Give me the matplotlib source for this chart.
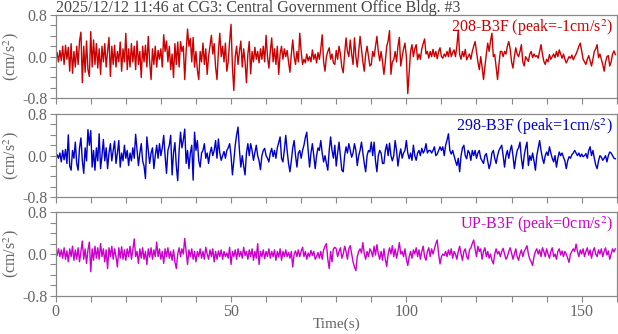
import numpy as np
import matplotlib
matplotlib.use("Agg")
import matplotlib.pyplot as plt
from matplotlib.ticker import MultipleLocator, FixedLocator

title = "2025/12/12 11:46 at CG3: Central Government Office Bldg. #3"
dt = 0.4  # seconds between the values

# 208-B3F, 0..159.6 s
red = [
    -0.05, 0.08, -0.1, 0.12, -0.08, 0.2, -0.15, 0.22, -0.05, 0.18, -0.28, 0.25, -0.32, 0.1, -0.2, 0.2, -0.15, 0.3, 0.47, -0.5, 0.2, -0.3, 0.3, -0.25, -0.38,
    0.48, -0.2, 0.32, -0.15, 0.25, -0.22, 0.15, -0.34, 0.2, -0.1, 0.25, -0.2, 0.1, 0.37, -0.38, 0.2, -0.15, 0.22, -0.2, 0.1, -0.1, 0.28, -0.28, 0.15, -0.1,
    0.45, -0.25, 0.15, -0.2, 0.25, -0.1, 0.2, -0.25, 0.3, -0.15, 0.1, -0.4, 0.2, -0.1, 0.22, -0.2, 0.39, -0.1, -0.44, 0.15, -0.15, 0.2, -0.2, 0.12, -0.05,
    0.15, -0.2, 0.42, 0.1, 0.3, -0.1, 0.2, -0.25, 0.05, -0.4, 0.25, -0.15, 0.28, -0.2, 0.29, 0.1, 0.2, -0.44, 0.1, 0.53, 0.2, 0.35, -0.1, 0.37, -0.2,
    0.1, -0.25, -0.44, 0.1, -0.1, 0.26, -0.15, 0.15, -0.34, 0.0, 0.2, 0.41, 0.05, 0.25, -0.2, -0.44, 0.1, 0.45, 0.0, 0.2, -0.1, 0.26, -0.28, -0.1, 0.3,
    0.62, -0.2, -0.65, 0.0, 0.2, -0.15, 0.1, 0.3, -0.2, 0.15, -0.1, -0.5, 0.05, 0.29, -0.33, 0.1, -0.1, 0.18, -0.05, 0.1, -0.12, 0.15, -0.05, 0.2, -0.1,
    0.41, 0.0, -0.22, 0.1, 0.36, -0.1, 0.15, -0.15, 0.2, -0.34, 0.05, 0.2, -0.05, 0.15, 0.0, 0.12, -0.1, -0.3, 0.05, 0.32, 0.0, -0.15, 0.1, -0.1, 0.45,
    0.1, -0.15, -0.05, -0.12, 0.05, -0.08, 0.0, -0.1, 0.13, -0.05, 0.05, -0.12, 0.08, -0.05, 0.15, 0.42, -0.1, -0.28, 0.0, 0.1, 0.17, -0.05, 0.05, -0.12, -0.15,
    0.12, -0.05, 0.2, 0.05, -0.2, -0.31, 0.05, 0.36, 0.1, 0.0, 0.32, 0.05, -0.15, 0.36, 0.0, -0.2, 0.1, 0.39, 0.15, -0.1, -0.28, 0.05, 0.2, 0.0, -0.18,
    -0.15, 0.1, 0.0, 0.2, 0.39, 0.1, -0.08, 0.1, -0.1, -0.34, -0.1, 0.2, 0.3, 0.5, -0.34, -0.1, -0.06, 0.1, -0.1, 0.2, 0.37, -0.18, 0.0, 0.15, 0.26,
    0.0, -0.71, -0.3, 0.1, 0.23, 0.0, 0.15, 0.23, -0.06, 0.05, -0.05, 0.15, 0.25, 0.34, 0.05, 0.1, -0.03, 0.1, 0.0, 0.14, 0.0, 0.1, -0.04, 0.1, 0.17,
    0.0, -0.03, 0.05, 0.0, 0.1, 0.0, 0.17, 0.0, 0.08, 0.13, 0.0, 0.2, 0.51, 0.04, -0.05, 0.1, 0.0, 0.14, -0.06, 0.0, 0.05, -0.05, 0.1, 0.2, 0.29,
    0.1, -0.1, -0.25, 0.0, -0.2, -0.44, -0.2, 0.05, 0.26, 0.1, 0.3, 0.45, 0.0, 0.04, -0.2, -0.44, -0.15, 0.1, 0.1, 0.0, 0.1, 0.05, 0.2, 0.29, 0.15,
    -0.1, -0.22, 0.0, 0.17, 0.05, 0.0, 0.1, 0.23, -0.1, -0.18, 0.0, -0.05, -0.09, 0.05, 0.1, -0.02, 0.05, 0.0, 0.02, -0.03, 0.1, 0.23, 0.05, -0.09, -0.15,
    -0.05, -0.1, 0.04, -0.05, 0.0, 0.05, -0.02, 0.1, 0.0, 0.13, 0.05, -0.03, 0.05, -0.05, -0.12, -0.06, 0.0, -0.03, 0.03, -0.06, 0.0, 0.05, 0.12, 0.2, 0.26,
    0.1, -0.05, -0.1, -0.15, -0.05, 0.02, -0.08, -0.18, -0.05, 0.1, 0.15, 0.23, -0.02, 0.05, -0.05, -0.15, -0.28, -0.1, 0.0, 0.02, -0.18, -0.1, 0.05, 0.11, 0.04,
]

# 298-B3F
blue = [
    -0.1, 0.02, -0.05, 0.05, -0.12, 0.1, -0.08, 0.12, -0.15, 0.4, -0.2, -0.28, 0.1, -0.05, 0.26, -0.15, -0.28, 0.15, 0.34, -0.1, -0.34, 0.15, -0.1, 0.5, 0.2,
    0.48, -0.22, 0.1, -0.28, 0.15, -0.1, 0.42, -0.25, 0.0, 0.31, -0.1, 0.15, -0.25, 0.05, 0.23, -0.1, 0.1, 0.28, -0.15, 0.05, 0.29, -0.22, 0.05, -0.1, 0.2,
    -0.05, 0.1, -0.19, 0.05, -0.1, 0.15, -0.05, 0.41, 0.1, -0.19, 0.05, 0.23, -0.1, -0.2, -0.44, 0.36, 0.1, -0.15, 0.05, 0.15, -0.25, 0.0, 0.2, -0.05, 0.23,
    0.0, 0.15, 0.39, 0.0, -0.34, 0.1, 0.2, 0.39, -0.37, 0.05, 0.25, -0.2, -0.48, 0.1, 0.45, 0.15, 0.3, 0.51, -0.15, 0.1, -0.25, 0.05, 0.2, -0.47, 0.45,
    0.1, 0.29, -0.1, -0.22, 0.05, 0.1, 0.23, -0.05, 0.05, -0.15, 0.05, 0.16, 0.0, 0.1, 0.29, -0.05, 0.32, 0.05, -0.09, 0.0, 0.08, -0.05, 0.1, 0.15, 0.23,
    0.0, -0.37, -0.1, 0.2, 0.4, 0.55, 0.1, -0.22, 0.0, -0.2, -0.37, 0.05, 0.23, 0.0, 0.23, 0.1, -0.09, 0.05, 0.2, 0.0, -0.1, -0.27, 0.0, 0.1, 0.14,
    0.0, -0.05, -0.12, 0.05, 0.14, -0.02, 0.1, -0.05, 0.15, 0.25, 0.36, -0.05, -0.12, 0.1, 0.39, 0.1, -0.15, -0.31, -0.1, 0.15, 0.29, 0.0, -0.22, 0.05, 0.1,
    -0.05, 0.1, 0.2, 0.35, 0.45, 0.1, -0.22, 0.05, 0.23, 0.0, -0.25, 0.0, 0.15, 0.1, 0.29, 0.05, -0.12, 0.0, -0.15, -0.28, 0.1, 0.36, 0.1, -0.05, 0.2,
    -0.2, 0.05, 0.26, 0.0, -0.28, -0.31, 0.0, 0.17, 0.05, 0.23, 0.1, -0.03, 0.05, 0.23, 0.1, -0.19, 0.0, 0.1, 0.26, 0.05, -0.15, -0.31, 0.0, 0.1, 0.07,
    0.26, 0.0, 0.26, -0.1, -0.31, 0.0, 0.1, 0.05, -0.15, -0.15, 0.1, 0.22, 0.0, 0.24, 0.0, -0.1, 0.0, 0.29, 0.1, -0.2, 0.0, 0.13, -0.05, 0.05, 0.1,
    0.29, 0.05, -0.06, 0.05, -0.09, 0.2, 0.0, -0.09, 0.05, 0.1, 0.0, 0.14, 0.05, 0.1, 0.23, 0.05, 0.1, 0.1, 0.05, 0.1, 0.17, 0.0, 0.03, 0.1, 0.17,
    0.1, 0.17, 0.0, 0.2, 0.3, 0.42, 0.1, 0.03, 0.1, 0.0, -0.1, -0.19, -0.05, -0.31, 0.0, 0.15, 0.2, 0.0, -0.06, 0.1, 0.05, -0.09, 0.1, 0.0, 0.1,
    -0.05, 0.05, 0.1, -0.05, -0.1, -0.15, 0.0, 0.04, -0.1, -0.25, -0.15, 0.05, 0.1, -0.05, -0.15, 0.0, 0.1, 0.15, 0.2, 0.0, -0.22, 0.0, 0.1, -0.05, 0.1,
    0.2, 0.0, -0.25, -0.05, 0.1, 0.15, 0.26, -0.05, -0.25, 0.0, 0.15, 0.26, -0.19, 0.0, -0.09, 0.05, -0.1, -0.28, 0.0, 0.15, 0.29, 0.1, -0.05, -0.15, 0.0,
    0.07, 0.0, 0.17, 0.05, -0.05, -0.12, 0.0, -0.22, -0.05, 0.07, 0.0, 0.05, -0.03, -0.1, -0.25, -0.1, -0.02, -0.05, 0.02, 0.05, 0.1, 0.05, 0.0, 0.05, -0.02,
    0.03, -0.02, 0.0, 0.04, -0.05, 0.1, 0.17, 0.0, 0.1, -0.05, -0.18, -0.25, -0.1, 0.0, -0.03, -0.09, -0.05, 0.0, -0.12, 0.0, 0.07, 0.05, 0.0, -0.05, -0.06,
]

# UP-B3F
magenta = [
    0.05, -0.03, 0.1, -0.05, 0.08, -0.08, 0.12, -0.1, 0.06, -0.15, 0.1, -0.05, 0.15, -0.12, 0.08, -0.1, 0.12, -0.15, 0.05, 0.25, -0.1, 0.1, -0.18, 0.08, 0.23,
    -0.34, 0.1, -0.12, 0.15, -0.08, 0.12, -0.1, 0.2, -0.05, 0.1, -0.15, 0.08, -0.28, 0.12, -0.05, 0.15, -0.1, 0.1, -0.05, -0.25, 0.12, -0.08, 0.14, -0.1, 0.08,
    -0.12, 0.1, -0.05, 0.15, -0.1, 0.08, 0.29, -0.05, 0.05, -0.18, 0.1, -0.08, 0.12, -0.1, 0.05, -0.2, 0.1, -0.06, 0.12, -0.1, 0.08, -0.05, 0.23, -0.05, 0.1,
    -0.1, 0.05, -0.18, 0.1, -0.05, 0.12, -0.08, 0.05, -0.12, 0.08, -0.15, -0.28, 0.0, 0.12, -0.05, 0.1, 0.0, 0.3, 0.05, -0.2, 0.08, -0.05, 0.1, -0.1, 0.05,
    -0.15, 0.05, -0.05, 0.1, -0.08, 0.05, -0.1, 0.13, 0.0, -0.1, 0.08, -0.05, 0.1, -0.15, 0.05, -0.1, 0.06, -0.05, 0.08, -0.1, 0.05, -0.05, 0.02, -0.08, 0.13,
    -0.2, 0.05, -0.05, 0.08, -0.1, 0.1, -0.05, 0.05, -0.08, 0.13, -0.03, 0.05, -0.1, 0.08, -0.05, 0.1, -0.12, 0.05, -0.08, 0.2, -0.2, 0.05, -0.05, 0.08, -0.09,
    0.05, -0.05, 0.1, -0.08, 0.05, -0.05, 0.08, -0.12, 0.05, -0.06, 0.1, -0.12, 0.05, -0.05, 0.08, -0.05, 0.03, -0.08, 0.05, -0.25, 0.0, 0.06, -0.05, 0.08, -0.05,
    0.05, 0.13, -0.05, 0.05, -0.1, 0.02, -0.05, 0.07, -0.03, 0.05, -0.1, -0.05, 0.03, -0.08, 0.05, -0.1, 0.08, 0.15, 0.2, -0.1, -0.28, 0.05, -0.15, 0.1, 0.13,
    0.1, -0.05, 0.05, 0.12, -0.08, 0.0, 0.15, 0.05, -0.1, 0.1, 0.16, 0.0, -0.15, -0.25, -0.32, -0.05, 0.05, 0.1, 0.02, 0.22, 0.0, -0.1, 0.05, -0.05, 0.1,
    0.05, -0.05, 0.15, -0.02, 0.18, 0.0, -0.1, 0.05, -0.12, 0.1, -0.1, -0.24, 0.0, 0.12, 0.0, 0.16, -0.05, 0.1, -0.08, 0.05, 0.22, 0.0, 0.05, -0.05, 0.1,
    -0.1, -0.22, -0.05, 0.05, -0.08, 0.08, 0.0, 0.12, -0.05, 0.08, -0.1, 0.05, 0.15, -0.05, -0.12, 0.05, 0.12, -0.05, 0.1, 0.0, 0.1, 0.2, 0.27, 0.0, -0.19,
    -0.05, 0.0, -0.03, 0.05, -0.05, 0.08, -0.02, 0.1, -0.08, 0.05, 0.0, -0.1, 0.05, 0.15, 0.0, -0.12, 0.05, 0.1, -0.05, -0.1, 0.08, 0.12, 0.2, 0.27, 0.1,
    -0.05, 0.15, 0.05, 0.1, -0.1, 0.05, 0.12, -0.05, 0.05, -0.08, 0.0, -0.12, -0.19, 0.0, 0.1, 0.0, 0.05, -0.05, 0.05, 0.11, 0.0, -0.1, -0.05, 0.05, 0.12,
    0.02, -0.1, 0.0, 0.1, -0.05, -0.12, 0.0, 0.08, -0.05, 0.05, 0.1, 0.16, 0.0, -0.1, -0.15, -0.22, -0.05, 0.05, 0.1, 0.0, 0.08, -0.05, 0.12, 0.05, -0.05,
    0.1, 0.0, -0.08, 0.05, 0.12, -0.05, 0.0, -0.1, 0.05, 0.1, -0.02, 0.06, -0.05, 0.05, 0.0, -0.08, -0.16, 0.0, 0.05, 0.1, 0.05, 0.19, 0.05, -0.05, 0.08,
    0.0, 0.1, -0.05, 0.05, 0.12, -0.02, 0.08, -0.08, 0.05, 0.12, 0.0, -0.05, 0.08, 0.0, 0.1, -0.05, 0.05, 0.12, -0.02, 0.06, -0.1, 0.0, 0.1, 0.04, 0.1,
]

labels = ["208-B3F (peak=-1cm/s$^2$)", "298-B3F (peak=1cm/s$^2$)", "UP-B3F (peak=0cm/s$^2$)"]
colors = ["#cc0000", "#0000cc", "#cc00cc"]
traces = [red, blue, magenta]

plt.rcParams['font.family'] = ['Liberation Serif', 'DejaVu Serif']
plt.rcParams['mathtext.fontset'] = 'stix'
gray = "#666666"
fs = 11.5

fig = plt.figure(figsize=(6.18, 3.34), dpi=100)
bottoms = [0.7057, 0.4093, 0.1147]
axes = []
for i, (vals, lab, col) in enumerate(zip(traces, labels, colors)):
    ax = fig.add_axes([0.0901, bottoms[i], 0.9079, 0.2494])
    t = np.arange(len(vals)) * dt
    ax.plot(t, vals, color=col, lw=1.0)
    ax.set_xlim(0, 160)
    ax.set_ylim(-0.8, 0.8)
    ax.yaxis.set_major_locator(FixedLocator([-0.8, 0.0, 0.8]))
    ax.yaxis.set_minor_locator(MultipleLocator(0.2))
    ax.xaxis.set_major_locator(MultipleLocator(50))
    ax.xaxis.set_minor_locator(MultipleLocator(10))
    ax.yaxis.set_major_formatter(plt.FuncFormatter(lambda v, p: "%.1f" % v))
    ax.tick_params(which="both", direction="out", length=4, width=0.8,
                   color="#888888", labelcolor=gray, labelsize=fs)
    ax.tick_params(axis="y", pad=2)
    ax.tick_params(axis="x", pad=2)
    for s in ax.spines.values():
        s.set_color("#888888")
        s.set_linewidth(0.9)
    if i < 2:
        ax.tick_params(axis="x", labelbottom=False)
    ax.set_ylabel("(cm/s$^2$)", color=gray, fontsize=fs, labelpad=1)
    ax.text(0.993, 0.97, lab, transform=ax.transAxes, ha="right", va="top",
            color=col, fontsize=fs)
    axes.append(ax)

# x label placed by hand so it stays inside the small canvas
fig.text(0.09 + 0.9079 / 2, 1 - 328.0 / 334, "Time(s)", color=gray,
         fontsize=11, ha="center", va="baseline")
fig.text(0.09, 1 - 12.0 / 334, title, color="#444444", fontsize=fs,
         ha="left", va="baseline")

fig.savefig("out.png", dpi=100)
